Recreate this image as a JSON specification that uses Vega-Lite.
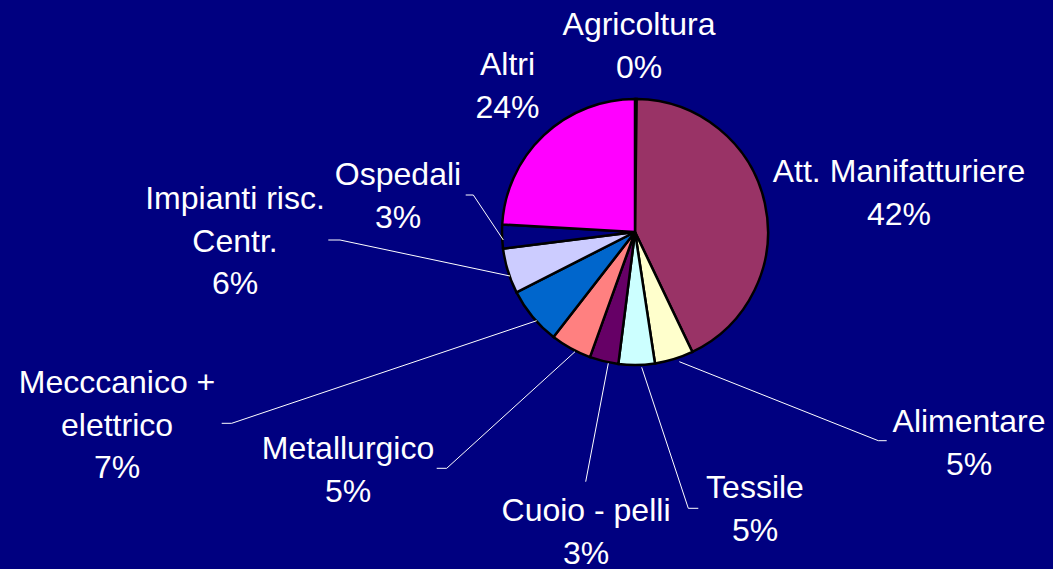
{
  "$schema": "https://vega.github.io/schema/vega-lite/v6.json",
  "width": 836,
  "height": 464,
  "autosize": {"type": "none"},
  "padding": {"left": 217, "top": 0, "right": 0, "bottom": 105},
  "background": "#000080",
  "config": {"view": {"stroke": null}},
  "datasets": {
    "shares": [
      {"sector": "Agricoltura", "value": 0.2, "rank": 1},
      {"sector": "Att. Manifatturiere", "value": 42.7, "rank": 2},
      {"sector": "Alimentare", "value": 4.7, "rank": 3},
      {"sector": "Tessile", "value": 4.4, "rank": 4},
      {"sector": "Cuoio - pelli", "value": 3.5, "rank": 5},
      {"sector": "Metallurgico", "value": 5.0, "rank": 6},
      {"sector": "Mecccanico + elettrico", "value": 7.0, "rank": 7},
      {"sector": "Impianti risc. Centr.", "value": 5.5, "rank": 8},
      {"sector": "Ospedali", "value": 2.9, "rank": 9},
      {"sector": "Altri", "value": 24.1, "rank": 10}
    ],
    "labels": [
      {"sector": "Agricoltura", "lines": ["Agricoltura", "0%"], "dx": 4, "dy": -197},
      {"sector": "Att. Manifatturiere", "lines": ["Att. Manifatturiere", "42%"], "dx": 264, "dy": -50},
      {"sector": "Alimentare", "lines": ["Alimentare", "5%"], "dx": 334, "dy": 200},
      {"sector": "Tessile", "lines": ["Tessile", "5%"], "dx": 120, "dy": 266},
      {"sector": "Cuoio - pelli", "lines": ["Cuoio - pelli", "3%"], "dx": -49, "dy": 289},
      {"sector": "Metallurgico", "lines": ["Metallurgico", "5%"], "dx": -287, "dy": 227},
      {"sector": "Mecccanico + elettrico", "lines": ["Mecccanico +", "elettrico", "7%"], "dx": -518, "dy": 161},
      {"sector": "Impianti risc. Centr.", "lines": ["Impianti risc.", "Centr.", "6%"], "dx": -400, "dy": -23},
      {"sector": "Ospedali", "lines": ["Ospedali", "3%"], "dx": -237, "dy": -47},
      {"sector": "Altri", "lines": ["Altri", "24%"], "dx": -127.5, "dy": -157}
    ],
    "leaders": [
      {"sector": "Ospedali", "pt": 1, "dx": -169.3, "dy": -37},
      {"sector": "Ospedali", "pt": 2, "dx": -161.7, "dy": -37},
      {"sector": "Ospedali", "pt": 3, "dx": -131.7, "dy": 8},
      {"sector": "Impianti risc. Centr.", "pt": 1, "dx": -306.7, "dy": 8},
      {"sector": "Impianti risc. Centr.", "pt": 2, "dx": -295, "dy": 8},
      {"sector": "Impianti risc. Centr.", "pt": 3, "dx": -125, "dy": 44},
      {"sector": "Mecccanico + elettrico", "pt": 1, "dx": -413.3, "dy": 191.3},
      {"sector": "Mecccanico + elettrico", "pt": 2, "dx": -403.3, "dy": 191.3},
      {"sector": "Mecccanico + elettrico", "pt": 3, "dx": -98.3, "dy": 88.7},
      {"sector": "Metallurgico", "pt": 1, "dx": -198.3, "dy": 236.3},
      {"sector": "Metallurgico", "pt": 2, "dx": -188.3, "dy": 236.3},
      {"sector": "Metallurgico", "pt": 3, "dx": -60, "dy": 119.7},
      {"sector": "Cuoio - pelli", "pt": 1, "dx": -49.3, "dy": 249.7},
      {"sector": "Cuoio - pelli", "pt": 2, "dx": -26.7, "dy": 131.3},
      {"sector": "Tessile", "pt": 1, "dx": 63.3, "dy": 276.3},
      {"sector": "Tessile", "pt": 2, "dx": 53.3, "dy": 276.3},
      {"sector": "Tessile", "pt": 3, "dx": 6.7, "dy": 135.3},
      {"sector": "Alimentare", "pt": 1, "dx": 251.7, "dy": 208.7},
      {"sector": "Alimentare", "pt": 2, "dx": 243.3, "dy": 208.7},
      {"sector": "Alimentare", "pt": 3, "dx": 44.3, "dy": 129.7}
    ]
  },
  "layer": [
    {
      "data": {"name": "shares"},
      "mark": {"type": "arc", "outerRadius": 133, "stroke": "#000000", "strokeWidth": 2.5},
      "encoding": {
        "theta": {"field": "value", "type": "quantitative", "stack": true},
        "order": {"field": "rank", "type": "quantitative"},
        "color": {
          "field": "sector",
          "type": "nominal",
          "sort": null,
          "legend": null,
          "scale": {
            "domain": ["Agricoltura", "Att. Manifatturiere", "Alimentare", "Tessile", "Cuoio - pelli", "Metallurgico", "Mecccanico + elettrico", "Impianti risc. Centr.", "Ospedali", "Altri"],
            "range": ["#9999FF", "#993366", "#FFFFCC", "#CCFFFF", "#660066", "#FF8080", "#0066CC", "#CCCCFF", "#000080", "#FF00FF"]
          }
        }
      }
    },
    {
      "data": {"name": "leaders"},
      "mark": {"type": "line", "stroke": "#FFFFFF", "strokeWidth": 1},
      "encoding": {
        "x": {"field": "dx", "type": "quantitative", "axis": null, "scale": {"domain": [-418, 418], "nice": false, "zero": false}},
        "y": {"field": "dy", "type": "quantitative", "axis": null, "scale": {"domain": [-232, 232], "nice": false, "zero": false, "reverse": true}},
        "detail": {"field": "sector", "type": "nominal"},
        "order": {"field": "pt", "type": "quantitative"}
      }
    },
    {
      "data": {"name": "labels"},
      "mark": {"type": "text", "align": "center", "baseline": "alphabetic", "font": "Liberation Sans", "fontSize": 32, "lineHeight": 42.5, "fill": "#FFFFFF"},
      "encoding": {
        "x": {"field": "dx", "type": "quantitative", "axis": null, "scale": {"domain": [-418, 418], "nice": false, "zero": false}},
        "y": {"field": "dy", "type": "quantitative", "axis": null, "scale": {"domain": [-232, 232], "nice": false, "zero": false, "reverse": true}},
        "text": {"field": "lines"}
      }
    }
  ]
}
